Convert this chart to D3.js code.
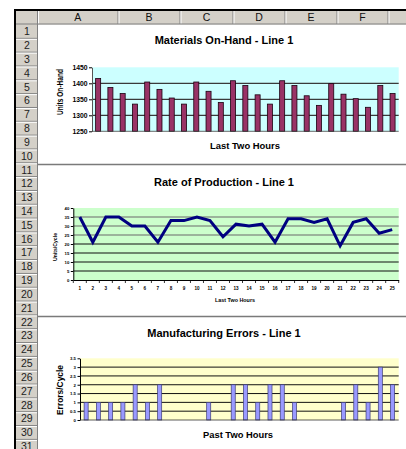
<!DOCTYPE html>
<html><head><meta charset="utf-8">
<script src="https://cdn.jsdelivr.net/npm/d3@7/dist/d3.min.js"></script>
<style>html,body{margin:0;padding:0;background:#fff;overflow:hidden}</style>
</head><body>
<svg id="c" width="406" height="449" xmlns="http://www.w3.org/2000/svg"></svg>
<script>
// ---------------- data ----------------
const columnLetters = ["A", "B", "C", "D", "E", "F"];
const rowNumbers = [1,2,3,4,5,6,7,8,9,10,11,12,13,14,15,16,17,18,19,20,21,22,23,24,25,26,27,28,29,30,31];

const hours = ["1","2","3","4","5","6","7","8","9","10","11","12","13","14","15","16","17","18","19","20","21","22","23","24","25"];
const materialsOnHand = [1415,1387,1368,1335,1404,1381,1354,1335,1404,1375,1340,1408,1393,1364,1335,1408,1393,1361,1331,1399,1366,1352,1325,1393,1368];
const materialsTicks = [1250,1300,1350,1400,1450];

const productionRate = [35,21,35,35,30,30,21,33,33,35,33,24,31,30,31,21,34,34,32,34,19,32,34,26,28];
const productionTicks = [0,5,10,15,20,25,30,35,40];

const errorSlots = ["1","2","3","4","5","6","7","8","9","10","11","12","13","14","15","16","17","18","19","20","21","22","23","24","25","26"];
const errorsPerCycle = [1,1,1,1,2,1,2,0,0,0,1,0,2,2,1,2,2,1,0,0,0,1,2,1,3,2];
const errorTicks = [0,0.5,1,1.5,2,2.5,3,3.5];

const titles = ["Materials On-Hand - Line 1", "Rate of Production - Line 1", "Manufacturing Errors - Line 1"];
const yTitles = ["Units On-Hand", "Units/Cycle", "Errors/Cycle"];
const xTitles = ["Last Two Hours", "Last Two Hours", "Past Two Hours"];

// ---------------- layout ----------------
const FONT = "'Liberation Sans', Arial, Helvetica, sans-serif";
const svg = d3.select("#c");
const colEdges = [37.5, 118, 180, 233, 285, 337, 388];
const rowTop = 24.5, rowH = 13.83;

// column header
svg.append("rect").attr("x", 16).attr("y", 11).attr("width", 390).attr("height", 13.5).attr("fill", "#d4d0c8");
// row header
svg.append("rect").attr("x", 16).attr("y", 24).attr("width", 21.5).attr("height", 425).attr("fill", "#d4d0c8");

// column separators + letters
const colG = svg.append("g");
colEdges.forEach(e => {
  colG.append("line").attr("x1", e).attr("x2", e).attr("y1", 11).attr("y2", 24).attr("stroke", "#808080").attr("stroke-width", 1);
  colG.append("line").attr("x1", e + 1).attr("x2", e + 1).attr("y1", 11).attr("y2", 24).attr("stroke", "#fff").attr("stroke-width", 1);
});
colG.selectAll("text").data(columnLetters).join("text")
  .attr("x", (d, i) => (colEdges[i] + colEdges[i + 1]) / 2)
  .attr("y", 21.2)
  .attr("text-anchor", "middle")
  .attr("font-family", FONT).attr("font-size", 10.5).attr("fill", "#111")
  .text(d => d);
svg.append("line").attr("x1", 16).attr("x2", 406).attr("y1", 24).attr("y2", 24).attr("stroke", "#808080");

// row separators + numbers
const rowG = svg.append("g");
rowNumbers.forEach((n, i) => {
  const yb = rowTop + (i + 1) * rowH;
  rowG.append("line").attr("x1", 16).attr("x2", 37.5).attr("y1", yb).attr("y2", yb).attr("stroke", "#808080");
  rowG.append("line").attr("x1", 16).attr("x2", 37.5).attr("y1", yb + 1).attr("y2", yb + 1).attr("stroke", "#fff");
});
rowG.selectAll("text").data(rowNumbers).join("text")
  .attr("x", 26.8)
  .attr("y", (d, i) => rowTop + i * rowH + rowH / 2 + 3.8)
  .attr("text-anchor", "middle")
  .attr("font-family", FONT).attr("font-size", 10.5).attr("fill", "#222")
  .text(d => d);
svg.append("line").attr("x1", 37.5).attr("x2", 37.5).attr("y1", 11).attr("y2", 449).attr("stroke", "#808080");

// heavy black frame
svg.append("line").attr("x1", 14).attr("x2", 406).attr("y1", 10).attr("y2", 10).attr("stroke", "#000").attr("stroke-width", 2);
svg.append("line").attr("x1", 15).attr("x2", 15).attr("y1", 9).attr("y2", 449).attr("stroke", "#000").attr("stroke-width", 2);

// chart separators
[164.5, 316.5].forEach(y => {
  svg.append("line").attr("x1", 38).attr("x2", 406).attr("y1", y).attr("y2", y).attr("stroke", "#7a7a7a").attr("stroke-width", 1.3);
});

function titleText(x, y, txt, size, len) {
  const t = svg.append("text").attr("x", x).attr("y", y).attr("text-anchor", "middle")
    .attr("font-family", FONT).attr("font-weight", "bold").attr("font-size", size).attr("fill", "#000").text(txt);
  if (len) t.attr("textLength", len).attr("lengthAdjust", "spacingAndGlyphs");
  return t;
}
function yTitle(x, y, txt, size, len) {
  const t = svg.append("text").attr("transform", `translate(${x},${y}) rotate(-90)`).attr("text-anchor", "middle")
    .attr("font-family", FONT).attr("font-weight", "bold").attr("font-size", size).attr("fill", "#000").text(txt);
  if (len) t.attr("textLength", len).attr("lengthAdjust", "spacingAndGlyphs");
}
function styleAxis(g, size) {
  g.selectAll("text").attr("font-family", FONT).attr("font-weight", "bold").attr("font-size", size).attr("fill", "#000");
  g.selectAll("line").attr("stroke", "#000");
  g.select(".domain").attr("stroke", "#000");
}

// ---------------- Chart 1: Materials On-Hand ----------------
{
  const x0 = 92, x1 = 398.7, yTop = 67.3, yBot = 131.3;
  const x = d3.scaleBand().domain(hours).range([x0, x1]).paddingInner(0.59).paddingOuter(0.295);
  const y = d3.scaleLinear().domain([1250, 1450]).range([yBot, yTop]);
  svg.append("rect").attr("x", x0).attr("y", yTop).attr("width", x1 - x0).attr("height", yBot - yTop).attr("fill", "#ccffff");
  svg.append("g").selectAll("line").data(materialsTicks.filter(t => t > 1250 && t < 1450)).join("line")
    .attr("x1", x0).attr("x2", x1).attr("y1", d => y(d)).attr("y2", d => y(d))
    .attr("stroke", "#3a3a3a").attr("stroke-width", 1.3);
  svg.append("g").selectAll("rect").data(materialsOnHand).join("rect")
    .attr("x", (d, i) => x(hours[i])).attr("width", x.bandwidth())
    .attr("y", d => y(d)).attr("height", d => yBot - y(d))
    .attr("fill", "#993366").attr("stroke", "#1a0010").attr("stroke-width", 0.8);
  const ya = svg.append("g").attr("transform", `translate(${x0},0)`)
    .call(d3.axisLeft(y).tickValues(materialsTicks).tickSize(3).tickSizeOuter(0).tickPadding(1.5).tickFormat(d3.format("d")));
  styleAxis(ya, 6.8);
  ya.select(".domain").attr("stroke", "#555");
  svg.append("line").attr("x1", x0).attr("x2", x1).attr("y1", yBot).attr("y2", yBot).attr("stroke", "#444").attr("stroke-width", 0.8);
  titleText(224, 44, titles[0], 11);
  yTitle(63, 92, yTitles[0], 8.5, 46);
  titleText(245, 149, xTitles[0], 8.5, 70);
}

// ---------------- Chart 2: Rate of Production ----------------
{
  const x0 = 73.3, x1 = 398.7, yTop = 208, yBot = 280;
  const x = d3.scaleBand().domain(hours).range([x0, x1]);
  const y = d3.scaleLinear().domain([0, 40]).range([yBot, yTop]);
  svg.append("rect").attr("x", x0).attr("y", yTop).attr("width", x1 - x0).attr("height", yBot - yTop).attr("fill", "#ccffcc");
  svg.append("g").selectAll("line").data(productionTicks.filter(t => t > 0 && t < 40)).join("line")
    .attr("x1", x0).attr("x2", x1).attr("y1", d => y(d)).attr("y2", d => y(d))
    .attr("stroke", d => d >= 25 ? "#6a6a6a" : "#111").attr("stroke-width", 1.1);
  const ya = svg.append("g").attr("transform", `translate(${x0},0)`)
    .call(d3.axisLeft(y).tickValues(productionTicks).tickSize(2.5).tickSizeOuter(0).tickPadding(1.5));
  styleAxis(ya, 4.3);
  const xa = svg.append("g").attr("transform", `translate(0,${yBot})`)
    .call(d3.axisBottom(x).tickSize(0).tickPadding(7));
  styleAxis(xa, 4.6);
  xa.select(".domain").attr("stroke", "#000").attr("stroke-width", 1);
  // category boundary tick marks
  svg.append("g").selectAll("line").data(hours.concat(["end"])).join("line")
    .attr("x1", (d, i) => x0 + i * x.step()).attr("x2", (d, i) => x0 + i * x.step())
    .attr("y1", yBot).attr("y2", yBot + 3).attr("stroke", "#000").attr("stroke-width", 0.8);
  const line = d3.line().x((d, i) => x(hours[i]) + x.bandwidth() / 2).y(d => y(d));
  svg.append("path").datum(productionRate).attr("d", line)
    .attr("fill", "none").attr("stroke", "#000080").attr("stroke-width", 3).attr("stroke-linejoin", "miter");
  titleText(224, 185.5, titles[1], 11);
  yTitle(56.5, 247, yTitles[1], 4.5, 28);
  titleText(235, 301.5, xTitles[1], 4.8, 40);
}

// ---------------- Chart 3: Manufacturing Errors ----------------
{
  const x0 = 80, x1 = 398.7, yTop = 358.3, yBot = 420;
  const x = d3.scaleBand().domain(errorSlots).range([x0, x1]).paddingInner(0.67).paddingOuter(0.335);
  const y = d3.scaleLinear().domain([0, 3.5]).range([yBot, yTop]);
  svg.append("rect").attr("x", x0).attr("y", yTop).attr("width", x1 - x0).attr("height", yBot - yTop).attr("fill", "#ffffcc");
  svg.append("g").selectAll("line").data(errorTicks.filter(t => t > 0 && t < 3.5)).join("line")
    .attr("x1", x0).attr("x2", x1).attr("y1", d => y(d)).attr("y2", d => y(d))
    .attr("stroke", "#111").attr("stroke-width", 1);
  svg.append("g").selectAll("rect").data(errorsPerCycle).join("rect")
    .attr("x", (d, i) => x(errorSlots[i])).attr("width", x.bandwidth())
    .attr("y", d => y(d)).attr("height", d => yBot - y(d))
    .attr("fill", "#9999ff").attr("stroke", "#3c3c7a").attr("stroke-width", 0.7)
    .attr("visibility", d => d > 0 ? "visible" : "hidden");
  const ya = svg.append("g").attr("transform", `translate(${x0},0)`)
    .call(d3.axisLeft(y).tickValues(errorTicks).tickSize(2.5).tickSizeOuter(0).tickPadding(1.5).tickFormat(d => String(d)));
  styleAxis(ya, 4.3);
  svg.append("line").attr("x1", x0).attr("x2", x1).attr("y1", yBot).attr("y2", yBot).attr("stroke", "#333").attr("stroke-width", 0.8);
  titleText(224, 336.5, titles[2], 11);
  yTitle(63, 390, yTitles[2], 8.5, 50);
  titleText(238, 437.5, xTitles[2], 8.5, 70);
}
</script>
</body></html>
